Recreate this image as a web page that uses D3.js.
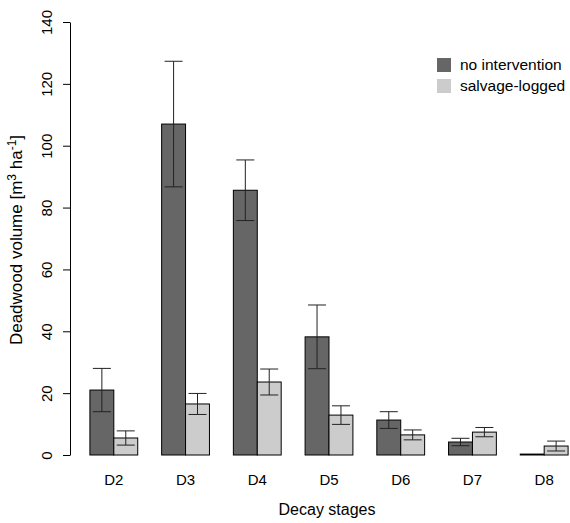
<!DOCTYPE html>
<html>
<head>
<meta charset="utf-8">
<script src="https://cdn.jsdelivr.net/npm/d3@7"></script>
<style>
  body { margin: 0; background: #fff; }
  text { font-family: "Liberation Sans", Arial, sans-serif; fill: #000; }
</style>
</head>
<body>
<script>
// data
var stages = ["D2", "D3", "D4", "D5", "D6", "D7", "D8"];
var treatments = ["no intervention", "salvage-logged"];
var noIntervention = [21.0, 107.0, 85.6, 38.2, 11.3, 4.2, 0.3];
var noInterventionErr = [7.0, 20.3, 9.8, 10.3, 2.7, 1.2, 0];
var salvageLogged = [5.5, 16.5, 23.6, 12.9, 6.5, 7.4, 2.9];
var salvageLoggedErr = [2.3, 3.4, 4.2, 3.0, 1.6, 1.5, 1.6];
var yTicks = [0, 20, 40, 60, 80, 100, 120, 140];
var colors = ["#666666", "#cccccc"];

var width = 570, height = 523;
var svg = d3.select("body").append("svg").attr("width", width).attr("height", height);

// x scales: groups, then bars inside a group
var x0 = d3.scaleBand().domain(stages).range([66, 592]).paddingInner(1/3).paddingOuter(1/3);
var x1 = d3.scaleBand().domain(treatments).range([0, x0.bandwidth()]);
var y = d3.scaleLinear().domain([0, 140]).range([455, 22]);

var rows = stages.map(function(s, i) {
  return [
    {stage: s, t: treatments[0], v: noIntervention[i], e: noInterventionErr[i], c: colors[0]},
    {stage: s, t: treatments[1], v: salvageLogged[i], e: salvageLoggedErr[i], c: colors[1]}
  ];
});

var groups = svg.selectAll(".grp").data(rows).enter().append("g")
  .attr("class", "grp")
  .attr("transform", function(d) { return "translate(" + x0(d[0].stage) + ",0)"; });

groups.selectAll("rect").data(function(d) { return d; }).enter().append("rect")
  .attr("x", function(d) { return x1(d.t); })
  .attr("y", function(d) { return y(d.v); })
  .attr("width", x1.bandwidth())
  .attr("height", function(d) { return y(0) - y(d.v); })
  .attr("fill", function(d) { return d.c; })
  .attr("stroke", "#000")
  .attr("stroke-width", 1);

// error bars
var eb = groups.selectAll(".eb").data(function(d) { return d.filter(function(r) { return r.e > 0; }); })
  .enter().append("g").attr("class", "eb")
  .attr("stroke", "#222").attr("stroke-width", 1);
var cap = 9;
eb.append("line")
  .attr("x1", function(d) { return x1(d.t) + x1.bandwidth() / 2; })
  .attr("x2", function(d) { return x1(d.t) + x1.bandwidth() / 2; })
  .attr("y1", function(d) { return y(d.v + d.e); })
  .attr("y2", function(d) { return y(d.v - d.e); });
eb.append("line")
  .attr("x1", function(d) { return x1(d.t) + x1.bandwidth() / 2 - cap; })
  .attr("x2", function(d) { return x1(d.t) + x1.bandwidth() / 2 + cap; })
  .attr("y1", function(d) { return y(d.v + d.e); })
  .attr("y2", function(d) { return y(d.v + d.e); });
eb.append("line")
  .attr("x1", function(d) { return x1(d.t) + x1.bandwidth() / 2 - cap; })
  .attr("x2", function(d) { return x1(d.t) + x1.bandwidth() / 2 + cap; })
  .attr("y1", function(d) { return y(d.v - d.e); })
  .attr("y2", function(d) { return y(d.v - d.e); });

// y axis, R style with rotated labels
var yAxis = svg.append("g").attr("transform", "translate(70,0)")
  .call(d3.axisLeft(y).tickValues(yTicks).tickSize(7).tickSizeOuter(0));
yAxis.select(".domain").attr("stroke", "#000");
yAxis.selectAll(".tick line").attr("stroke", "#000");
yAxis.selectAll(".tick text")
  .attr("transform", "rotate(-90)")
  .attr("x", 0).attr("y", -18).attr("dy", 0)
  .attr("text-anchor", "middle")
  .style("font-size", "15px")
  .style("font-family", "'Liberation Sans', Arial, sans-serif")
  .attr("fill", "#000");

// x category labels
svg.selectAll(".xlab").data(stages).enter().append("text")
  .attr("class", "xlab")
  .attr("x", function(d) { return x0(d) + x0.bandwidth() / 2; })
  .attr("y", 485)
  .attr("text-anchor", "middle")
  .style("font-size", "15px")
  .text(function(d) { return d; });

svg.append("text")
  .attr("x", 327).attr("y", 515)
  .attr("text-anchor", "middle")
  .style("font-size", "16px")
  .text("Decay stages");

var yt = svg.append("text")
  .attr("transform", "translate(21.5,240) rotate(-90)")
  .attr("text-anchor", "middle")
  .style("font-size", "17px");
yt.append("tspan").text("Deadwood volume [m");
yt.append("tspan").attr("dy", -6).style("font-size", "12px").text("3");
yt.append("tspan").attr("dy", 6).text(" ha");
yt.append("tspan").attr("dy", -6).style("font-size", "12px").text("-1");
yt.append("tspan").attr("dy", 6).text("]");

// legend
var legend = svg.selectAll(".leg").data(treatments).enter().append("g")
  .attr("class", "leg")
  .attr("transform", function(d, i) { return "translate(437," + (58 + i * 21) + ")"; });
legend.append("rect")
  .attr("width", 14).attr("height", 14)
  .attr("fill", function(d, i) { return colors[i]; });
legend.append("text")
  .attr("x", 23).attr("y", 12)
  .style("font-size", "15.5px")
  .text(function(d) { return d; });
</script>
</body>
</html>
